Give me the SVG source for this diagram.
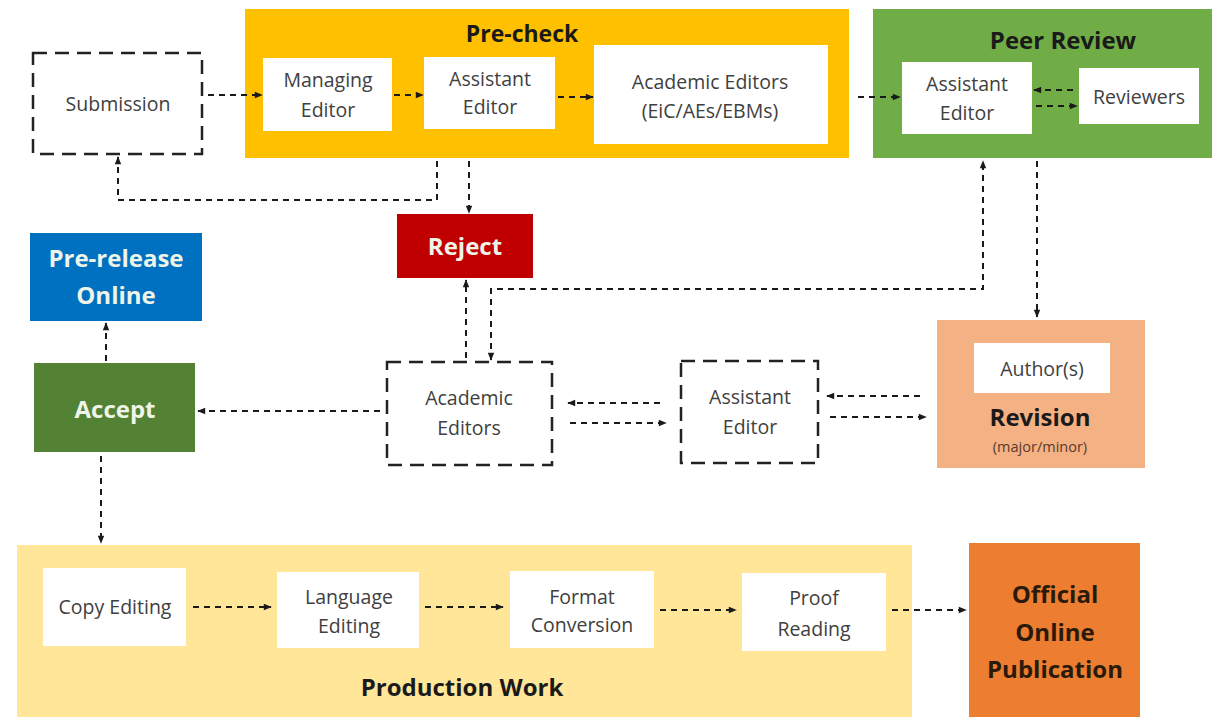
<svg xmlns="http://www.w3.org/2000/svg" width="1214" height="717" viewBox="0 0 1214 717">
<defs>
<marker id="ah" viewBox="0 0 10 10" refX="9" refY="5" markerWidth="9" markerHeight="8" markerUnits="userSpaceOnUse" orient="auto-start-reverse">
<path d="M0,1 L10,5 L0,9 z" fill="#1a1a1a"/>
</marker>
<style>
.lbl{font-family:"Open Sans","Noto Sans",sans-serif;font-size:19.5px;fill:#404040;text-anchor:middle;dominant-baseline:central}
.ttl{font-family:"Open Sans","Noto Sans",sans-serif;font-size:24px;font-weight:bold;fill:#1a1a1a;text-anchor:middle;dominant-baseline:central}
.wt{font-family:"Open Sans","Noto Sans",sans-serif;font-size:24px;font-weight:bold;fill:#eef4e8;text-anchor:middle;dominant-baseline:central}
.wbox{fill:#ffffff}
.dbox{fill:#ffffff;stroke:#222;stroke-width:2.5;stroke-dasharray:14 8}
.con{fill:none;stroke:#1a1a1a;stroke-width:2;stroke-dasharray:6 5}
</style>
</defs>
<rect width="1214" height="717" fill="#ffffff"/>

<g id="submission">
<rect class="dbox" x="33" y="53" width="169" height="101"/>
<text class="lbl" x="118" y="103">Submission</text>
</g>

<g id="precheck">
<rect x="245" y="9" width="604" height="149" fill="#FFC000"/>
<text class="ttl" x="522" y="33" style="font-size:23px">Pre-check</text>
</g>
<g id="managing-editor">
<rect class="wbox" x="263" y="58" width="129" height="73"/>
<text class="lbl" x="328" y="79">Managing</text>
<text class="lbl" x="328" y="109">Editor</text>
</g>
<g id="assistant-editor-pre">
<rect class="wbox" x="424" y="57" width="131" height="72"/>
<text class="lbl" x="490" y="78">Assistant</text>
<text class="lbl" x="490" y="106">Editor</text>
</g>
<g id="academic-editors-pre">
<rect class="wbox" x="594" y="45" width="234" height="99"/>
<text class="lbl" x="710" y="81">Academic Editors</text>
<text class="lbl" x="710" y="110">(EiC/AEs/EBMs)</text>
</g>

<g id="peer-review">
<rect x="873" y="9" width="339" height="149" fill="#70AD47"/>
<text class="ttl" x="1063" y="39">Peer Review</text>
</g>
<g id="assistant-editor-pr">
<rect class="wbox" x="902" y="62" width="130" height="72"/>
<text class="lbl" x="967" y="83">Assistant</text>
<text class="lbl" x="967" y="112">Editor</text>
</g>
<g id="reviewers">
<rect class="wbox" x="1079" y="68" width="120" height="56"/>
<text class="lbl" x="1139" y="96">Reviewers</text>
</g>

<g id="reject">
<rect x="397" y="214" width="136" height="64" fill="#C00000"/>
<text class="wt" x="465" y="245">Reject</text>
</g>

<g id="pre-release">
<rect x="30" y="233" width="172" height="88" fill="#0070C0"/>
<text class="wt" x="116" y="257">Pre-release</text>
<text class="wt" x="116" y="294">Online</text>
</g>

<g id="accept">
<rect x="34" y="363" width="161" height="89" fill="#548235"/>
<text class="wt" x="115" y="408">Accept</text>
</g>

<g id="academic-editors-mid">
<rect class="dbox" x="387" y="362" width="165" height="103"/>
<text class="lbl" x="469" y="397">Academic</text>
<text class="lbl" x="469" y="427">Editors</text>
</g>

<g id="assistant-editor-mid">
<rect class="dbox" x="681" y="361" width="137" height="102"/>
<text class="lbl" x="750" y="396">Assistant</text>
<text class="lbl" x="750" y="426">Editor</text>
</g>

<g id="revision">
<rect x="937" y="320" width="208" height="148" fill="#F4B183"/>
<rect class="wbox" x="974" y="343" width="136" height="50"/>
<text class="lbl" x="1042" y="368">Author(s)</text>
<text class="ttl" x="1040" y="416">Revision</text>
<text class="lbl" x="1040" y="446" style="font-size:14.5px;fill:#5a3a2a">(major/minor)</text>
</g>

<g id="production">
<rect x="17" y="545" width="895" height="172" fill="#FFE699"/>
<text class="ttl" x="462" y="686">Production Work</text>
</g>
<g id="copy-editing">
<rect class="wbox" x="43" y="568" width="143" height="78"/>
<text class="lbl" x="115" y="606">Copy Editing</text>
</g>
<g id="language-editing">
<rect class="wbox" x="277" y="572" width="142" height="76"/>
<text class="lbl" x="349" y="596">Language</text>
<text class="lbl" x="349" y="625">Editing</text>
</g>
<g id="format-conversion">
<rect class="wbox" x="510" y="571" width="144" height="77"/>
<text class="lbl" x="582" y="596">Format</text>
<text class="lbl" x="582" y="624">Conversion</text>
</g>
<g id="proof-reading">
<rect class="wbox" x="742" y="573" width="144" height="78"/>
<text class="lbl" x="814" y="597">Proof</text>
<text class="lbl" x="814" y="628">Reading</text>
</g>

<g id="official">
<rect x="969" y="543" width="171" height="174" fill="#ED7D31"/>
<text class="ttl" x="1055" y="593" style="fill:#2a1a0a">Official</text>
<text class="ttl" x="1055" y="631" style="fill:#2a1a0a">Online</text>
<text class="ttl" x="1055" y="668" style="fill:#2a1a0a">Publication</text>
</g>

<g id="connectors">
<line class="con" x1="208" y1="95" x2="262" y2="95" marker-end="url(#ah)"/>
<line class="con" x1="394" y1="95" x2="423" y2="95" marker-end="url(#ah)"/>
<line class="con" x1="558" y1="97" x2="593" y2="97" marker-end="url(#ah)"/>
<line class="con" x1="858" y1="97" x2="900" y2="97" marker-end="url(#ah)"/>
<line class="con" x1="1073" y1="90" x2="1034" y2="90" marker-end="url(#ah)"/>
<line class="con" x1="1036" y1="106" x2="1077" y2="106" marker-end="url(#ah)"/>
<path class="con" d="M437,161 V200 H118 V157" marker-end="url(#ah)"/>
<line class="con" x1="469" y1="161" x2="469" y2="213" marker-end="url(#ah)"/>
<line class="con" x1="466" y1="358" x2="466" y2="280" marker-end="url(#ah)"/>
<path class="con" d="M491,360 V289 H983 V161" marker-start="url(#ah)" marker-end="url(#ah)"/>
<line class="con" x1="1037" y1="161" x2="1037" y2="317" marker-end="url(#ah)"/>
<line class="con" x1="380" y1="411" x2="198" y2="411" marker-end="url(#ah)"/>
<line class="con" x1="106" y1="361" x2="106" y2="323" marker-end="url(#ah)"/>
<line class="con" x1="101" y1="456" x2="101" y2="543" marker-end="url(#ah)"/>
<line class="con" x1="660" y1="403" x2="568" y2="403" marker-end="url(#ah)"/>
<line class="con" x1="570" y1="423" x2="666" y2="423" marker-end="url(#ah)"/>
<line class="con" x1="920" y1="396" x2="827" y2="396" marker-end="url(#ah)"/>
<line class="con" x1="830" y1="417" x2="926" y2="417" marker-end="url(#ah)"/>
<line class="con" x1="193" y1="607" x2="271" y2="607" marker-end="url(#ah)"/>
<line class="con" x1="425" y1="607" x2="503" y2="607" marker-end="url(#ah)"/>
<line class="con" x1="660" y1="610" x2="736" y2="610" marker-end="url(#ah)"/>
<line class="con" x1="892" y1="610" x2="966" y2="610" marker-end="url(#ah)"/>
</g>
</svg>
